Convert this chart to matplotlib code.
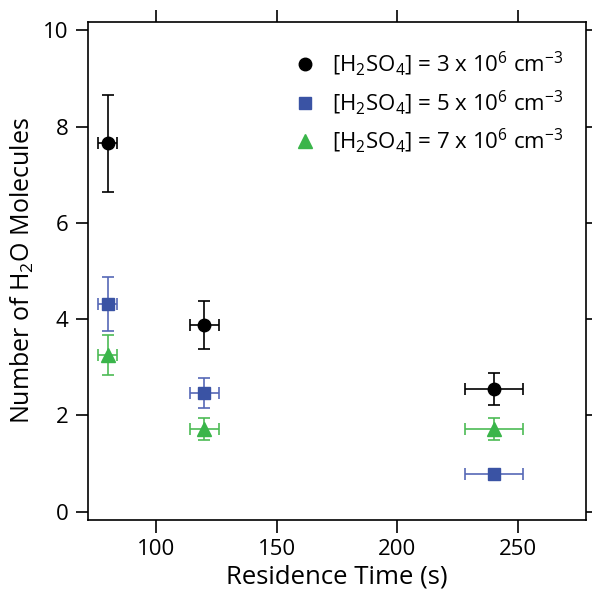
import matplotlib
matplotlib.use("Agg")
import matplotlib.pyplot as plt

plt.rcParams["font.family"] = ["Open Sans", "DejaVu Sans"]
plt.rcParams["mathtext.fontset"] = "custom"
plt.rcParams["mathtext.rm"] = "Open Sans"
plt.rcParams["mathtext.it"] = "Open Sans"

# residence time (s) and x uncertainty
time_s = [80, 120, 240]
time_err = [4, 6, 12]

# number of water molecules per series
h2o_3e6 = [7.65, 3.88, 2.55]
h2o_3e6_err = [1.0, 0.5, 0.33]
h2o_5e6 = [4.32, 2.46, 0.79]
h2o_5e6_err = [0.56, 0.31, 0.0]
h2o_7e6 = [3.26, 1.72, 1.72]
h2o_7e6_err = [0.42, 0.22, 0.22]

labels = [
    r"[H$\mathregular{_2}$SO$\mathregular{_4}$] = 3 x 10$\mathregular{^6}$ cm$\mathregular{^{-3}}$",
    r"[H$\mathregular{_2}$SO$\mathregular{_4}$] = 5 x 10$\mathregular{^6}$ cm$\mathregular{^{-3}}$",
    r"[H$\mathregular{_2}$SO$\mathregular{_4}$] = 7 x 10$\mathregular{^6}$ cm$\mathregular{^{-3}}$",
]

series = [
    (h2o_3e6, h2o_3e6_err, "o", "#000000", "#000000", 9),
    (h2o_5e6, h2o_5e6_err, "s", "#3a53a4", "#5668b6", 8),
    (h2o_7e6, h2o_7e6_err, "^", "#3ab54a", "#4dbb55", 9.5),
]

fig = plt.figure(figsize=(5.92, 5.96), dpi=100)
ax = fig.add_axes([88 / 592, 76 / 596, 498 / 592, 498 / 596])

for (yv, ye, mk, fc, ec, ms), lab in zip(series, labels):
    ax.errorbar(time_s, yv, yerr=ye, xerr=time_err, fmt="none", ecolor=ec,
                elinewidth=1.2, capsize=4, capthick=1.2)
    ax.plot(time_s, yv, linestyle="none", marker=mk, markersize=ms,
            color=fc, label=lab)

ax.set_xlim(71.8, 278.2)
ax.set_ylim(-0.17, 10.17)
ax.set_xticks([100, 150, 200, 250])
ax.set_yticks([0, 2, 4, 6, 8, 10])

ax.tick_params(axis="both", direction="out", length=9, width=1.2,
               labelsize=16, top=True, right=True, pad=5)
for sp in ax.spines.values():
    sp.set_linewidth(1.2)

ax.set_xlabel("Residence Time (s)", fontsize=18.5, labelpad=3)
ax.set_ylabel(r"Number of H$\mathregular{_2}$O Molecules", fontsize=18, labelpad=5)

leg = ax.legend(loc="upper right", bbox_to_anchor=(0.985, 0.975), frameon=False,
                fontsize=16, handletextpad=0.7, labelspacing=0.45,
                handlelength=1.0, borderaxespad=0.3)

fig.savefig("out.png", dpi=100)
